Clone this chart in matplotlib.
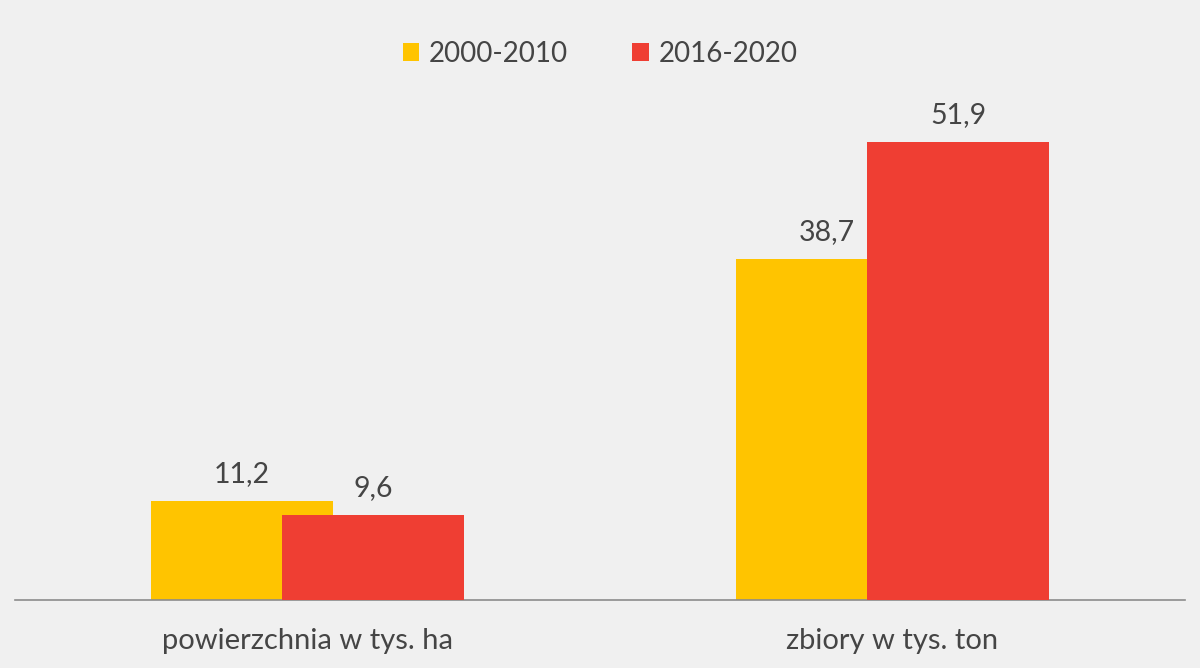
import matplotlib
matplotlib.use("Agg")
import matplotlib.pyplot as plt
import numpy as np

categories = ["powierzchnia w tys. ha", "zbiory w tys. ton"]
series_names = ["2000-2010", "2016-2020"]
values_2000_2010 = [11.2, 38.7]
values_2016_2020 = [9.6, 51.9]
colors = ["#FFC400", "#EF3E33"]

plt.rcParams['font.family'] = ['Lato', 'DejaVu Sans']
bg = "#F0F0F0"
txt = "#454545"

fig = plt.figure(figsize=(12, 6.68), dpi=100, facecolor=bg)
ax = fig.add_axes([15/1200, (668-600)/668, 1170/1200, (600-71)/668], facecolor=bg)

x = np.arange(len(categories))
w = 0.311
off = 0.112
for i, (vals, name, c) in enumerate(zip([values_2000_2010, values_2016_2020], series_names, colors)):
    pos = x + (-off if i == 0 else off)
    bars = ax.bar(pos, vals, width=w, color=c, label=name, zorder=2 + i)
    for b, v in zip(bars, vals):
        ax.text(b.get_x() + b.get_width() / 2, v + 1.6, f"{v:.1f}".replace(".", ","),
                ha="center", va="bottom", fontsize=20.5, color=txt)

ax.set_xlim(-0.5, 1.5)
ax.set_ylim(0, 60)
ax.set_xticks(x)
ax.set_xticklabels(categories, fontsize=21, color=txt)
ax.tick_params(axis="x", length=0, pad=20)
ax.set_yticks([])
for s in ["top", "right", "left"]:
    ax.spines[s].set_visible(False)
ax.spines["bottom"].set_color("#8C8C8C")
ax.spines["bottom"].set_linewidth(1.2)

leg = fig.legend(loc="center", bbox_to_anchor=(0.5, 1 - 54/668), ncol=2, frameon=False,
                 fontsize=20, handlelength=0.6, handleheight=0.6, handletextpad=0.35,
                 columnspacing=2.3)
for t in leg.get_texts():
    t.set_color(txt)

fig.savefig("out.png", dpi=100, facecolor=bg)
